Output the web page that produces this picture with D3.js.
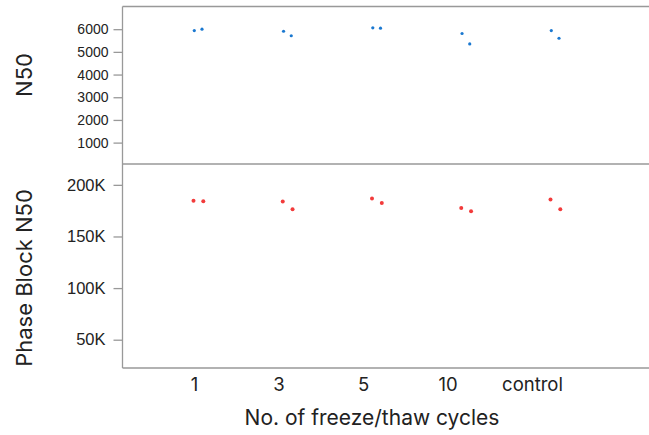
<!DOCTYPE html>
<html lang="en">
<head>
    <meta charset="UTF-8">
    <title>N50 and Phase Block N50 by freeze/thaw cycles</title>
    <script src="https://d3js.org/d3.v7.min.js"></script>
    <style>
        body { margin: 0; background: #fff; }
        svg { display: block; font-family: Inter, "Noto Sans", sans-serif; }
        .tick text { fill: #222; }
        .top-axis .tick text { font-size: 14px; }
        .bot-axis .tick text { font-size: 16.5px; }
        .axis-title { fill: #222; }
    </style>
</head>
<body>
    <svg id="chart"></svg>

    <script>
        // categories on the x axis
        const cycles = ["1", "3", "5", "10", "control"];

        // two replicates per category
        const n50Rep1 = [5940, 5910, 6060, 5810, 5940];
        const n50Rep2 = [6000, 5710, 6045, 5350, 5600];
        const pbRep1 = [184700, 183800, 186700, 177700, 185700];
        const pbRep2 = [184200, 176400, 182500, 174500, 176400];

        const n50Ticks = [1000, 2000, 3000, 4000, 5000, 6000];
        const pbTicks = [50000, 100000, 150000, 200000];

        const W = 649, H = 435;
        const left = 122.5, right = 649;
        const top1 = 6.5, mid = 164, bottom2 = 368;

        const svg = d3.select("#chart").attr("width", W).attr("height", H);

        // x scale for labels and a slightly wider one for the dot groups
        const xLabel = d3.scalePoint().domain(cycles).range([194.5, 532.5]);
        const xDot = d3.scalePoint().domain(cycles).range([198, 555]);

        const yTop = d3.scaleLinear().domain([0, 7000]).range([165.3, top1]);
        const yBot = d3.scaleLinear().domain([22600, 220200]).range([bottom2, mid]);

        // frame lines
        const frame = svg.append("g").attr("stroke", "#999").attr("stroke-width", 1.3);
        [top1, mid, bottom2].forEach(y => {
            frame.append("line").attr("x1", left).attr("x2", right).attr("y1", y).attr("y2", y);
        });

        // y axes
        const axTop = svg.append("g")
            .attr("class", "top-axis")
            .attr("transform", `translate(${left},0)`)
            .call(d3.axisLeft(yTop).tickValues(n50Ticks).tickSize(9).tickPadding(5).tickFormat(d3.format("d")));
        axTop.select(".domain").remove();

        const axBot = svg.append("g")
            .attr("class", "bot-axis")
            .attr("transform", `translate(${left},0)`)
            .call(d3.axisLeft(yBot).tickValues(pbTicks).tickSize(9).tickPadding(8).tickFormat(d => (d / 1000) + "K"));
        axBot.select(".domain").remove();

        svg.append("line")
            .attr("x1", left).attr("x2", left).attr("y1", top1).attr("y2", bottom2)
            .attr("stroke", "#999").attr("stroke-width", 1.3);

        svg.selectAll(".tick line").attr("stroke", "#999").attr("stroke-width", 1.3);
        svg.selectAll(".tick text").attr("font-size", null);

        // x category labels (no tick marks)
        svg.append("g").selectAll("text")
            .data(cycles)
            .join("text")
            .attr("x", d => xLabel(d))
            .attr("y", 391)
            .attr("text-anchor", "middle")
            .attr("font-size", 18.5)
            .attr("fill", "#222")
            .text(d => d);

        // axis titles
        svg.append("text").attr("class", "axis-title")
            .attr("x", 372).attr("y", 425).attr("text-anchor", "middle")
            .attr("font-size", 21)
            .text("No. of freeze/thaw cycles");

        svg.append("text").attr("class", "axis-title")
            .attr("transform", "translate(32,75) rotate(-90)").attr("text-anchor", "middle")
            .attr("font-size", 22)
            .text("N50");

        svg.append("text").attr("class", "axis-title")
            .attr("transform", "translate(32,278) rotate(-90)").attr("text-anchor", "middle")
            .attr("font-size", 22)
            .text("Phase Block N50");

        // dots
        const blue = "#1a78d0", red = "#f23b3b";
        const topPts = cycles.flatMap((c, i) => [
            { c, v: n50Rep1[i], dx: 0 },
            { c, v: n50Rep2[i], dx: 7.7 }
        ]);
        const botPts = cycles.flatMap((c, i) => [
            { c, v: pbRep1[i], dx: -0.5 },
            { c, v: pbRep2[i], dx: 9.3 }
        ]);

        svg.append("g").selectAll("circle")
            .data(topPts)
            .join("circle")
            .attr("cx", d => xDot(d.c) - 3.7 + d.dx)
            .attr("cy", d => yTop(d.v))
            .attr("r", 1.6)
            .attr("fill", blue);

        svg.append("g").selectAll("circle")
            .data(botPts)
            .join("circle")
            .attr("cx", d => xDot(d.c) - 4 + d.dx)
            .attr("cy", d => yBot(d.v))
            .attr("r", 2)
            .attr("fill", red);
    </script>
</body>
</html>
